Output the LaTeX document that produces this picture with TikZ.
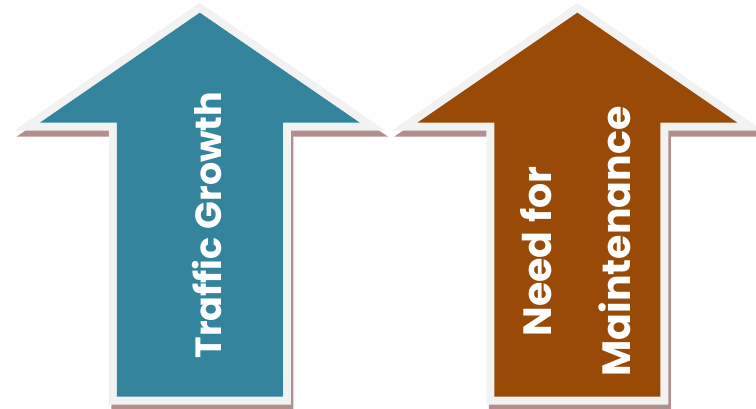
\documentclass[tikz,border=0pt]{standalone}
\usepackage{fontspec}
\setmainfont{Poppins}
\definecolor{tealfill}{HTML}{33849C}
\definecolor{brownfill}{HTML}{9A4A07}
\definecolor{rimgray}{HTML}{F2F2F2}
\definecolor{shadowrose}{HTML}{B28F8F}
\tikzset{
  arrowshadow/.style={draw=shadowrose,fill=shadowrose,line width=16pt,line join=miter,miter limit=10},
  arrowrim/.style={draw=rimgray,fill=rimgray,line width=16pt,line join=miter,miter limit=10},
  arrowlabel/.style={text=white,font=\bfseries,rotate=90,anchor=base,inner sep=0pt}
}
\newcommand\uparrowshape{(0,396.3) -- (160,286.3) -- (83,286.3) -- (83,12.3) -- (-83,12.3) -- (-83,286.3) -- (-160,286.3) -- cycle}
\begin{document}
\begin{tikzpicture}[x=1pt,y=1pt]
\useasboundingbox (0,0) rectangle (756,409);
% left arrow
\begin{scope}[shift={(199.8,0)}]
  \path[arrowshadow,shift={(2.5,-6)}] \uparrowshape;
  \path[arrowrim] \uparrowshape;
  \path[fill=tealfill] \uparrowshape;
\end{scope}
% right arrow
\begin{scope}[shift={(577.4,0)}]
  \path[arrowshadow,shift={(2.5,-6)}] \uparrowshape;
  \path[arrowrim] \uparrowshape;
  \path[fill=brownfill] \uparrowshape;
\end{scope}
\node[arrowlabel,font=\bfseries\fontsize{36.5}{40}\selectfont] (traffic) at (221.7,184) {Traffic Growth};
\node[arrowlabel,font=\bfseries\fontsize{39.5}{44}\selectfont] (need) at (551.7,157.5) {Need for};
\node[arrowlabel,font=\bfseries\fontsize{39.5}{44}\selectfont] (maint) at (630,167.5) {Maintenance};
\end{tikzpicture}
\end{document}
